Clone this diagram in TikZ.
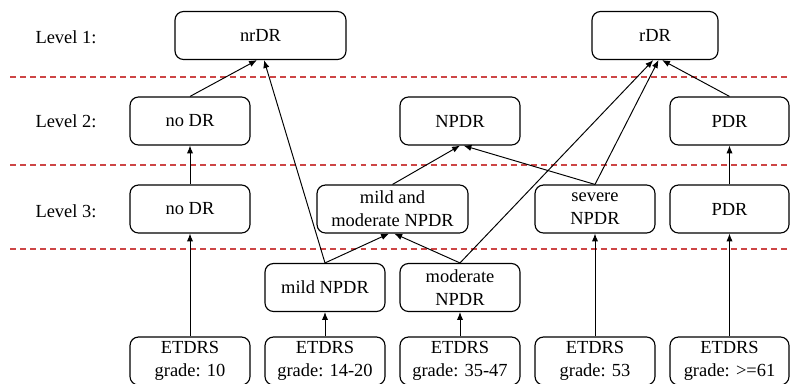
\documentclass[tikz,border=0pt]{standalone}
\usepackage{fontspec}
\setmainfont{Liberation Serif}
\usetikzlibrary{arrows.meta}
\definecolor{sepred}{RGB}{205,70,70}
\begin{document}
\begin{tikzpicture}[x=0.02cm,y=-0.02cm,
  box/.style={draw,line width=0.65pt,rounded corners=0.17cm,minimum width=2.4cm,
    minimum height=0.96cm,align=center,inner sep=1pt,
    font=\fontsize{10.5}{13.1}\selectfont},
  lvl/.style={font=\fontsize{10.5}{13.1}\selectfont},
  sep/.style={draw=sepred,line width=0.7pt,dash pattern=on 3.4pt off 2.3pt},
  arr/.style={line width=0.55pt,-{Latex[length=4.5pt,width=3.6pt]}}]
  \useasboundingbox (0,0) rectangle (790,383);
  % level separators
  \draw[sep] (10,77) -- (790,77);
  \draw[sep] (10,165) -- (790,165);
  \draw[sep] (10,249) -- (790,249);
  % level labels
  \node[lvl] (lvla) at (66,37) {Level 1:};
  \node[lvl] (lvlb) at (66,121) {Level 2:};
  \node[lvl] (lvlc) at (66,211) {Level 3:};
  % level 1
  \node[box,minimum width=3.42cm] (nrdr) at (260.5,35.5) {nrDR};
  \node[box,minimum width=2.52cm] (rdr) at (655,35.5) {rDR};
  % level 2
  \node[box] (nodrb) at (190,121) {no DR};
  \node[box] (npdr) at (460,121) {NPDR};
  \node[box,minimum width=2.38cm] (pdrb) at (729.5,121) {PDR};
  % level 3
  \node[box] (nodrc) at (190,209) {no DR};
  \node[box,minimum width=3.02cm] (mildmod) at (392.5,209) {mild and\\moderate NPDR};
  \node[box] (severe) at (595,209) {severe\\NPDR};
  \node[box,minimum width=2.38cm] (pdrc) at (729.5,209) {PDR};
  % split grades
  \node[box] (mild) at (325,287.5) {mild NPDR};
  \node[box] (moderate) at (460,287.5) {moderate\\NPDR};
  % ETDRS grades
  \node[box] (gten) at (190,361) {ETDRS\\grade: 10};
  \node[box] (gmild) at (325,361) {ETDRS\\grade: 14-20};
  \node[box] (gmod) at (460,361) {ETDRS\\grade: 35-47};
  \node[box] (gsev) at (595,361) {ETDRS\\grade: 53};
  \node[box,minimum width=2.38cm] (gpdr) at (729.5,361) {ETDRS\\grade: >=61};
  % grades to classes
  \draw[arr] (gten) -- (nodrc);
  \draw[arr] (gmild) -- (mild);
  \draw[arr] (gmod) -- (moderate);
  \draw[arr] (gsev) -- (severe);
  \draw[arr] (gpdr) -- (pdrc);
  % level 3 to level 2
  \draw[arr] (nodrc) -- (nodrb);
  \draw[arr] (pdrc) -- (pdrb);
  \draw[arr] (mild.north) -- ([xshift=-2]mildmod.south);
  \draw[arr] (moderate.north) -- ([xshift=1]mildmod.south);
  \draw[arr] (mildmod.north) -- (npdr.south);
  \draw[arr] (severe.north) -- ([xshift=2]npdr.south);
  % to level 1
  \draw[arr] (nodrb.north) -- ([xshift=-2]nrdr.south);
  \draw[arr] (mild.north) -- ([xshift=2]nrdr.south);
  \draw[arr] (moderate.north) -- ([xshift=-1]rdr.south);
  \draw[arr] (severe.north) -- ([xshift=2]rdr.south);
  \draw[arr] (pdrb.north) -- ([xshift=4]rdr.south);
\end{tikzpicture}
\end{document}
